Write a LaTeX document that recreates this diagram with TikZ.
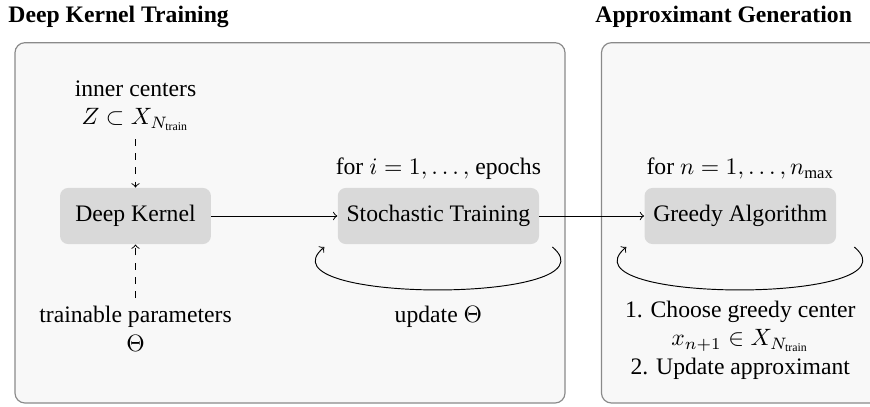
\documentclass[tikz,border=0pt]{standalone}
\usepackage{amsmath}
\usepackage{fontspec}
\setmainfont{Liberation Serif}
\usetikzlibrary{positioning}

\definecolor{panelbg}{HTML}{F8F8F8}
\definecolor{panelline}{HTML}{8A8A8A}
\definecolor{blockbg}{HTML}{D9D9D9}

\begin{document}
\begin{tikzpicture}[x=0.4228pt, y=0.4228pt,
    panel/.style={draw=panelline, fill=panelbg, rounded corners=4.2pt, line width=0.5pt},
    block/.style={fill=blockbg, rounded corners=3.4pt, minimum width=63.8pt, minimum height=23.7pt, inner xsep=3.7pt},
    heading/.style={anchor=base west, inner sep=0pt, font=\bfseries}]
        \clip (0,0) rectangle (870,406);

        % Panels
        \draw[panel] (15,3) rectangle (565,363.3);
        \draw[panel] (601.5,3) rectangle (900,363.3);

        % Titles
        \node[heading] (dkt) at (8,383.3) {Deep Kernel Training};
        \node[heading] (apg) at (595,383.3) {Approximant Generation};

        % Blocks
        \node[block] (dk) at (135.5,190) {Deep Kernel};
        \node[block] (st) at (438.4,190) {Stochastic Training};
        \node[block] (ga) at (740.3,190) {Greedy Algorithm};

        % Inputs of the deep kernel
        \node[anchor=south, align=center] (ic) at (135.5,267) {inner centers\\$Z \subset X_{N_\text{train}}$};
        \node[anchor=north, align=center] (tp) at (135.5,108) {trainable parameters\\$\Theta$};
        \draw[->, dashed] (ic) -- (dk);
        \draw[->, dashed] (tp) -- (dk);

        % Main flow
        \draw[->] (dk) -- (st);
        \draw[->] (st) -- (ga);

        % Loops
        \node[above=0pt of st] (ep) {for $i = 1, \ldots,$ epochs};
        \draw[->] ([shift={(114,-31)}]st.center) to[out=-40, in=-140]
            node[below=3.2pt] (up) {update $\Theta$} ([shift={(-114,-31)}]st.center);

        \node[above=0pt of ga] (nm) {for $n = 1, \ldots, n_{\max}$};
        \draw[->] ([shift={(114,-31)}]ga.center) to[out=-40, in=-140]
            node[below=1.2pt, align=center] (gs) {1. Choose greedy center\\$x_{n+1} \in X_{N_\text{train}}$\\2. Update approximant}
            ([shift={(-114,-31)}]ga.center);
\end{tikzpicture}
\end{document}
